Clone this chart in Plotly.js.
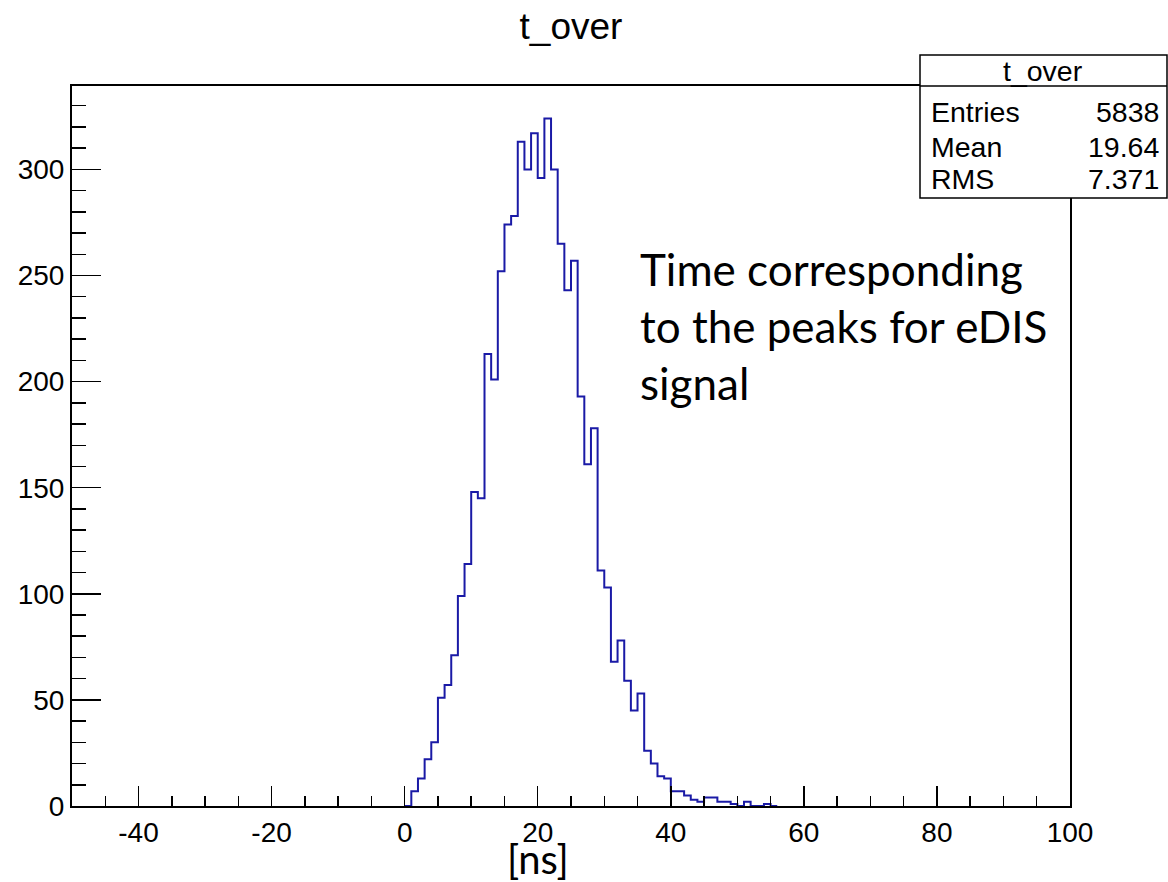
<!DOCTYPE html>
<html>
<head>
<meta charset="utf-8">
<script src="https://cdn.plot.ly/plotly-3.0.1.min.js"></script>
<style>
html, body { margin: 0; padding: 0; background: #ffffff; }
#chart { width: 1168px; height: 882px; }
</style>
</head>
<body>
<div id="chart"></div>
<script>
// Histogram bins (left edges, width 1 ns) and counts
const binLeftEdges = [0,1,2,3,4,5,6,7,8,9,10,11,12,13,14,15,16,17,18,19,20,21,22,23,24,25,26,27,28,29,30,31,32,33,34,35,36,37,38,39,40,41,42,43,44,45,46,47,48,49,50,51,52,53,54,55];
const binRightEnd = 56;
const counts = [0,7,13,22,30,51,57,71,99,114,148,145,213,201,252,274,278,313,300,317,296,324,300,265,243,257,193,161,178,111,103,68,78,59,45,53,26,20,14,13,7,7,5,3,2,4,4,2,2,1,0,2,0,0,1,0];

const xTickVals = [-40, -20, 0, 20, 40, 60, 80, 100];
const xTickText = ["-40", "-20", "0", "20", "40", "60", "80", "100"];

const histTitle = "t_over";
const xAxisLabel = "[ns]";
const statLabels = ["Entries", "Mean", "RMS"];
const statValues = ["5838", "19.64", "7.371"];
const noteText = "Time corresponding<br>to the peaks for eDIS<br>signal";

const xs = binLeftEdges.concat([binRightEnd]);
const ys = counts.concat([counts[counts.length - 1]]);

const axisFont = { family: "Liberation Sans, Arial, sans-serif", size: 28, color: "#000" };

const trace = {
  type: "scatter",
  mode: "lines",
  x: xs,
  y: ys,
  line: { shape: "hv", color: "#1a1aa6", width: 2 },
  hoverinfo: "skip",
  showlegend: false
};

// pixel -> paper helpers (plot area 72..1070 x 86..806)
const px = p => (p - 72) / 998;
const py = p => (806 - p) / 720;

const statFont = { family: "Liberation Sans, Arial, sans-serif", size: 28.5, color: "#000" };
const annotations = [];
annotations.push({
  xref: "paper", yref: "paper", x: px(1043), y: py(71),
  text: histTitle, showarrow: false, xanchor: "center", yanchor: "middle",
  font: statFont
});
const rowY = [112, 147, 179];
statLabels.forEach((lab, i) => {
  annotations.push({
    xref: "paper", yref: "paper", x: px(929), y: py(rowY[i]),
    text: lab, showarrow: false, xanchor: "left", yanchor: "middle",
    font: statFont
  });
  annotations.push({
    xref: "paper", yref: "paper", x: px(1161), y: py(rowY[i]),
    text: statValues[i], showarrow: false, xanchor: "right", yanchor: "middle",
    font: statFont
  });
});
annotations.push({
  xref: "paper", yref: "paper", x: px(638), y: py(326),
  text: noteText, showarrow: false, xanchor: "left", yanchor: "middle", align: "left",
  font: { family: "Lato, Open Sans, sans-serif", size: 44, color: "#000" }
});
annotations.push({
  xref: "paper", yref: "paper", x: px(538), y: py(859),
  text: xAxisLabel, showarrow: false, xanchor: "center", yanchor: "middle",
  font: { family: "Lato, Open Sans, sans-serif", size: 40, color: "#000" }
});

const shapes = [
  { type: "rect", xref: "paper", yref: "paper", x0: px(920), x1: px(1167), y0: py(198), y1: py(55),
    line: { color: "#000", width: 1.5 }, fillcolor: "#fff", layer: "above" },
  { type: "line", xref: "paper", yref: "paper", x0: px(920), x1: px(1167), y0: py(86), y1: py(86),
    line: { color: "#000", width: 1.5 }, layer: "above" }
];

const layout = {
  width: 1168, height: 882,
  margin: { l: 72, r: 98, t: 86, b: 76 },
  paper_bgcolor: "#fff", plot_bgcolor: "#fff",
  title: {
    text: histTitle, x: 0.5, xref: "paper", xanchor: "center",
    y: 1 - 26 / 882, yref: "container", yanchor: "middle",
    font: { family: "Liberation Sans, Arial, sans-serif", size: 37, color: "#000" }
  },
  xaxis: {
    range: [-50, 100], tickmode: "array", tickvals: xTickVals, ticktext: xTickText,
    ticks: "inside", ticklen: 20, tickwidth: 1.5, tickcolor: "#000",
    minor: { dtick: 5, tick0: 0, ticks: "inside", ticklen: 10, tickwidth: 1.5, tickcolor: "#000" },
    showline: true, linecolor: "#000", linewidth: 2, mirror: true,
    showgrid: false, zeroline: false, tickfont: axisFont
  },
  yaxis: {
    range: [0, 339.3], tick0: 0, dtick: 50,
    ticks: "inside", ticklen: 29, tickwidth: 1.5, tickcolor: "#000",
    minor: { dtick: 10, ticks: "inside", ticklen: 14, tickwidth: 1.5, tickcolor: "#000" },
    showline: true, linecolor: "#000", linewidth: 2, mirror: true,
    showgrid: false, zeroline: false, tickfont: axisFont
  },
  annotations: annotations,
  shapes: shapes
};

Plotly.newPlot("chart", [trace], layout, { displayModeBar: false, staticPlot: true });
</script>
</body>
</html>
